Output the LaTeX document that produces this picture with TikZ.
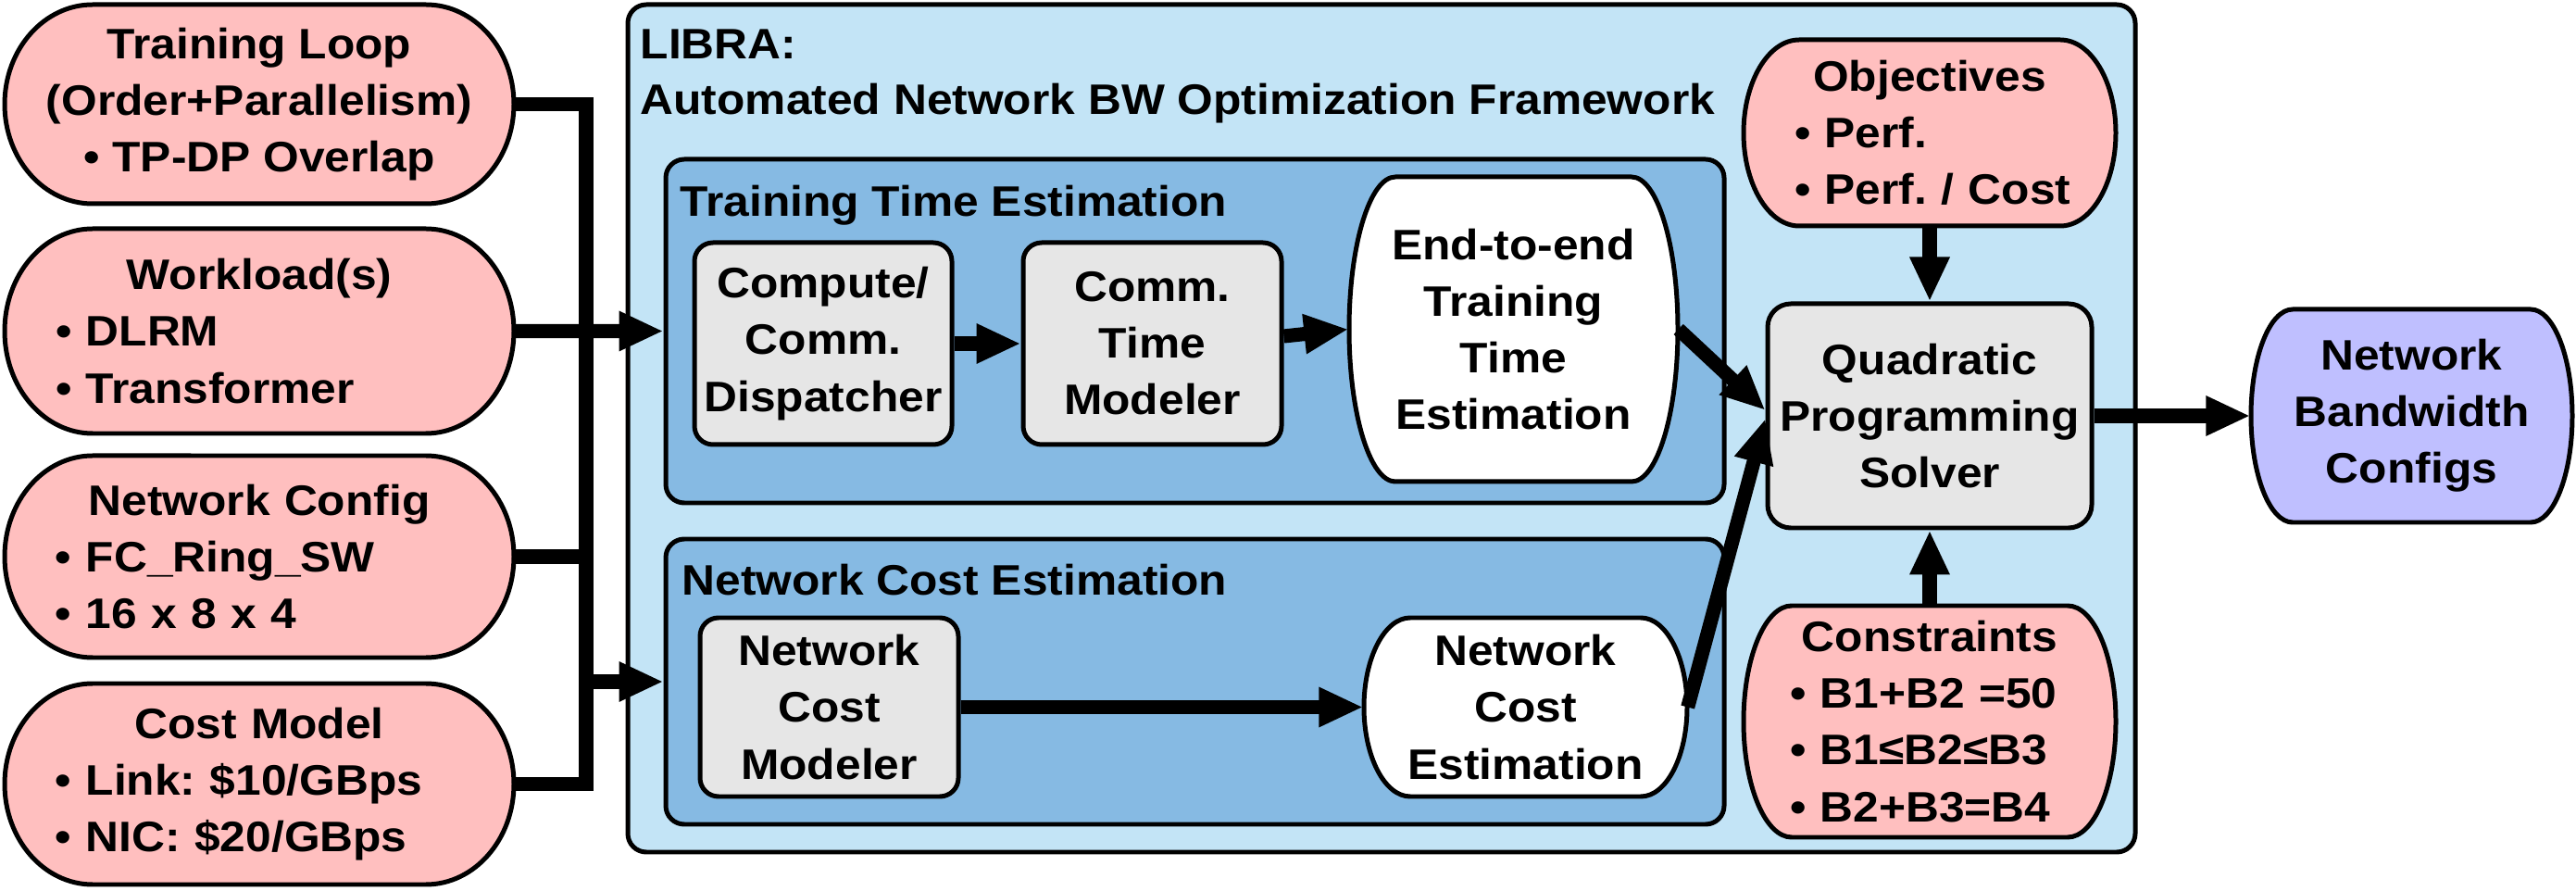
\documentclass[tikz,border=0pt]{standalone}
\usepackage{fontspec}
\setmainfont{Liberation Sans}[FakeStretch=1.08]
\usetikzlibrary{arrows.meta}
\definecolor{pinkf}{RGB}{255,191,191}
\definecolor{purplef}{RGB}{191,191,255}
\definecolor{lbluef}{RGB}{195,228,246}
\definecolor{mbluef}{RGB}{134,186,227}
\definecolor{grayf}{RGB}{230,230,230}
\frenchspacing
% capsule node: #1 name, #2 fill, #3 x1, #4 y1, #5 x2, #6 y2, #7 rx, #8 node options, #9 text
\newcommand\capnode[9]{%
  \path[draw=black, line width=1.42pt, fill=#2]
    ({#3+#7},#4) -- ({#5-#7},#4)
    arc[start angle=-90, end angle=90, x radius=#7, y radius={(#6-#4)/2}]
    -- ({#3+#7},#6)
    arc[start angle=90, end angle=270, x radius=#7, y radius={(#6-#4)/2}] -- cycle;
  \node[inner sep=0pt, minimum width={(#5-#3)*1cm}, minimum height={(#6-#4)*1cm}, #8]
    (#1) at ({(#3+#5)/2},{(#4+#6)/2}) {#9};}
\begin{document}
\begin{tikzpicture}[
  every node/.style={font=\fontsize{13.1}{17.4}\selectfont\bfseries},
  box/.style={draw, line width=1.42pt, rounded corners=0.2cm, inner sep=0pt},
  conn/.style={line width=4.3pt},
  arr/.style={line width=4.3pt, -{Triangle[length=0.48cm,width=0.40cm]}},
  ctext/.style={align=center},
]
\useasboundingbox (0,0) rectangle (27.82,9.61);

% LIBRA frame
\node[box, fill=lbluef, minimum width=16.28cm, minimum height=9.15cm] (libra) at (14.92,4.985) {};
\node[anchor=base west, inner sep=0pt] (t1) at (6.91,8.97) {LIBRA:};
\node[anchor=base west, inner sep=0pt] (t2) at (6.91,8.37) {Automated Network BW Optimization Framework};

% Training time estimation
\node[box, fill=mbluef, minimum width=11.43cm, minimum height=3.71cm] (tte) at (12.905,6.035) {};
\node[anchor=base west, inner sep=0pt] (tteT) at (7.34,7.27) {Training Time Estimation};
\node[box, fill=grayf, minimum width=2.78cm, minimum height=2.18cm, align=center] (cd) at (8.89,5.90) {Compute/\\Comm.\\Dispatcher};
\node[box, fill=grayf, minimum width=2.79cm, minimum height=2.18cm, align=center] (ctm) at (12.445,5.90) {Comm.\\Time\\Modeler};
\capnode{e2e}{white}{14.57}{4.41}{18.12}{7.70}{0.50}{ctext}{End-to-end\\Training\\Time\\Estimation}

% Network cost estimation
\node[box, fill=mbluef, minimum width=11.43cm, minimum height=3.08cm] (nceb) at (12.905,2.25) {};
\node[anchor=base west, inner sep=0pt] (ncebT) at (7.36,3.18) {Network Cost Estimation};
\node[box, fill=grayf, minimum width=2.79cm, minimum height=1.93cm, align=center] (ncm) at (8.955,1.975) {Network\\Cost\\Modeler};
\capnode{nce}{white}{14.73}{1.01}{18.22}{2.94}{0.50}{ctext}{Network\\Cost\\Estimation}

% Right column
\capnode{obj}{pinkf}{18.83}{7.17}{22.85}{9.18}{0.60}{align=left, text width=2.92cm}{\makebox[\linewidth]{Objectives}\\• Perf.\\\mbox{• Perf. / Cost}}
\node[box, fill=grayf, rounded corners=0.25cm, minimum width=3.50cm, minimum height=2.42cm, align=center] (qp) at (20.84,5.12) {Quadratic\\Programming\\Solver};
\capnode{cons}{pinkf}{18.83}{0.57}{22.85}{3.07}{0.52}{align=left, text width=3.02cm}{\makebox[\linewidth]{Constraints}\\\mbox{• B1+B2 =50}\\\mbox{• B1≤B2≤B3}\\\mbox{• B2+B3=B4}}
\capnode{nbc}{purplef}{24.31}{3.97}{27.78}{6.27}{0.45}{ctext}{Network\\Bandwidth\\Configs}

% Left inputs
\capnode{tl}{pinkf}{0.05}{7.41}{5.55}{9.56}{0.95}{ctext}{Training Loop\\(Order+Parallelism)\\• TP-DP Overlap}
\capnode{wl}{pinkf}{0.05}{4.93}{5.55}{7.14}{0.95}{align=left, text width=4.4cm}{\makebox[\linewidth]{Workload(s)}\\• DLRM\\• Transformer}
\capnode{nc}{pinkf}{0.05}{2.51}{5.55}{4.69}{0.95}{align=left, text width=4.4cm}{\makebox[\linewidth]{Network Config}\\• FC\_Ring\_SW\\• 16 x 8 x 4}
\capnode{cm}{pinkf}{0.05}{0.06}{5.55}{2.23}{0.95}{align=left, text width=4.4cm}{\makebox[\linewidth]{Cost Model}\\\mbox{• Link: \$10/GBps}\\\mbox{• NIC: \$20/GBps}}

% Connectors
\coordinate (busTop) at (6.33,8.485);
\draw[conn] (tl.east) -- (busTop) |- (cm.east);
\draw[conn] (nc.east) -- (nc.east -| busTop);
\draw[arr] (wl.east) -- (tte.west);
\draw[arr] (busTop |- nceb.west) -- (nceb.west);
\draw[arr] (cd.east) -- (ctm.west);
\draw[arr] ([yshift=0.08cm]ctm.east) -- (e2e.west);
\draw[arr] (ncm.east) -- (nce.west |- ncm.east);
\draw[arr] (e2e.east) -- ([yshift=0.06cm]qp.west);
\draw[arr] (nce.east) -- ([yshift=-0.03cm]qp.west);
\draw[arr] (obj.south) -- (qp.north);
\draw[arr] (cons.north) -- (qp.south);
\draw[arr] (qp.east) -- (nbc.west);
\end{tikzpicture}
\end{document}
